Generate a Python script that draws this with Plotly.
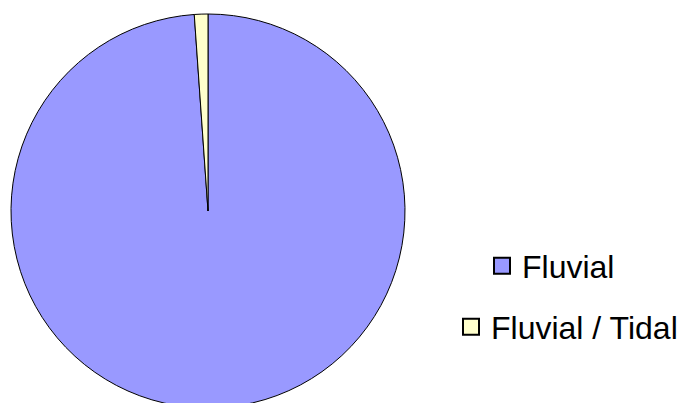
import plotly.graph_objects as go

# Depositional environment shares
categories = ["Fluvial", "Fluvial / Tidal"]
values = [89, 1]
colors = ["#9999FF", "#FFFFCC"]

W, H = 685, 420  # canvas is a little taller than the view; bottom of the pie runs off-screen


def px_x(p):
    return p / W


def px_y(p):
    return 1 - p / H


fig = go.Figure()

fig.add_trace(go.Pie(
    labels=categories,
    values=values,
    sort=False,
    direction="clockwise",
    rotation=0,
    textinfo="none",
    hoverinfo="label+percent",
    marker=dict(colors=colors, line=dict(color="black", width=1)),
    showlegend=False,
    domain=dict(x=[px_x(11), px_x(405)], y=[px_y(408), px_y(14)]),
))

# Legend entries, one legend per category so each row can be placed on its own
legend_ids = ["legend", "legend2"]
for name, col, lid in zip(categories, colors, legend_ids):
    fig.add_trace(go.Scatter(
        x=[None], y=[None], mode="markers", name=name, legend=lid,
        marker=dict(symbol="square", size=16, color=col,
                    line=dict(color="black", width=2)),
        hoverinfo="skip",
    ))

legend_font = dict(family="Liberation Sans, Arial, sans-serif", size=32, color="black")
fig.update_layout(
    width=W, height=H,
    margin=dict(l=0, r=0, t=0, b=0),
    paper_bgcolor="white", plot_bgcolor="white",
    xaxis=dict(visible=False), yaxis=dict(visible=False),
    legend=dict(x=px_x(482), y=px_y(266), xanchor="left", yanchor="middle",
                font=legend_font, bgcolor="rgba(0,0,0,0)"),
    legend2=dict(x=px_x(451), y=px_y(327), xanchor="left", yanchor="middle",
                 font=legend_font, bgcolor="rgba(0,0,0,0)"),
)

fig.write_html(
    "out.html",
    post_script="document.documentElement.style.overflow='hidden';document.body.style.overflow='hidden';",
)
